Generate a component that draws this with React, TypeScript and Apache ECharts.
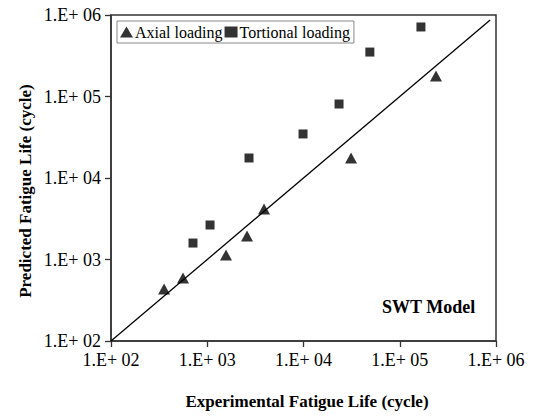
import React, { useEffect, useRef } from "react";
import * as echarts from "echarts";

const axialX = [356, 560, 1567, 2590, 3890, 31200, 238000];
const axialY = [434, 593, 1135, 1940, 4170, 17600, 178000];
const torsX = [711, 1069, 2716, 9890, 23400, 48900, 166000];
const torsY = [1592, 2650, 17600, 34700, 80900, 351000, 713000];
const refLine = [[100, 100], [870000, 870000]];
const seriesNames = ["Axial loading", "Tortional loading"];

const FONT = "Liberation Serif, Times New Roman, serif";

function fmt(v: number) {
  const e = Math.round(Math.log10(v));
  return "1.E+ " + (e < 10 ? "0" + e : String(e));
}

export default function App() {
  const ref = useRef<HTMLDivElement>(null);
  useEffect(() => {
    document.body.style.margin = "0";
    if (!ref.current) return;
    const chart = echarts.init(ref.current, undefined, { renderer: "svg" });
    const axisCommon = {
      type: "log" as const,
      logBase: 10,
      min: 100,
      max: 1000000,
      axisLine: { show: true, lineStyle: { color: "#333", width: 1.5 } },
      axisTick: { show: true, inside: false, length: 6, lineStyle: { color: "#333", width: 1.3 } },
      minorTick: { show: false },
      splitLine: { show: false },
      axisLabel: { fontFamily: FONT, fontSize: 18, color: "#000", formatter: fmt },
    };
    chart.setOption({
      animation: false,
      backgroundColor: "#fff",
      grid: { left: 111, right: 44, top: 15, bottom: 76, show: true, borderColor: "#333", borderWidth: 1.5 },
      xAxis: { ...axisCommon, axisLabel: { ...axisCommon.axisLabel, margin: 10 } },
      yAxis: { ...axisCommon, axisLabel: { ...axisCommon.axisLabel, margin: 10 } },
      legend: {
        left: 117,
        top: 21,
        orient: "horizontal",
        itemWidth: 13,
        itemHeight: 11,
        itemGap: 2,
        padding: [3, 4, 3, 3],
        borderColor: "#888",
        borderWidth: 1,
        backgroundColor: "#fff",
        textStyle: { fontFamily: FONT, fontSize: 16, color: "#000", padding: [0, 0, 0, -3] },
        data: [
          { name: seriesNames[0], icon: "triangle" },
          { name: seriesNames[1], icon: "rect" },
        ],
      },
      graphic: [
        {
          type: "text",
          left: 382,
          top: 298,
          style: { text: "SWT Model", fontFamily: FONT, fontSize: 18, fontWeight: "bold", fill: "#000" },
        },
        {
          type: "text",
          x: 307,
          y: 401,
          style: {
            text: "Experimental Fatigue Life (cycle)",
            fontFamily: FONT,
            fontSize: 17,
            fontWeight: "bold",
            fill: "#000",
            align: "center",
            verticalAlign: "middle",
          },
        },
        {
          type: "text",
          x: 25,
          y: 191,
          rotation: Math.PI / 2,
          style: {
            text: "Predicted Fatigue Life (cycle)",
            fontFamily: FONT,
            fontSize: 17,
            fontWeight: "bold",
            fill: "#000",
            align: "center",
            verticalAlign: "middle",
          },
        },
      ],
      series: [
        {
          name: "ref",
          type: "line",
          data: refLine,
          symbol: "none",
          lineStyle: { color: "#000", width: 1.3 },
          z: 1,
          silent: true,
        },
        {
          name: seriesNames[0],
          type: "scatter",
          data: axialX.map((x, i) => [x, axialY[i]]),
          symbol: "triangle",
          symbolSize: [12, 11],
          itemStyle: { color: "#000" },
          z: 3,
        },
        {
          name: seriesNames[1],
          type: "scatter",
          data: torsX.map((x, i) => [x, torsY[i]]),
          symbol: "rect",
          symbolSize: 9,
          itemStyle: { color: "#000" },
          z: 3,
        },
      ],
    });
    return () => chart.dispose();
  }, []);
  return <div ref={ref} style={{ width: 540, height: 417 }} />;
}
